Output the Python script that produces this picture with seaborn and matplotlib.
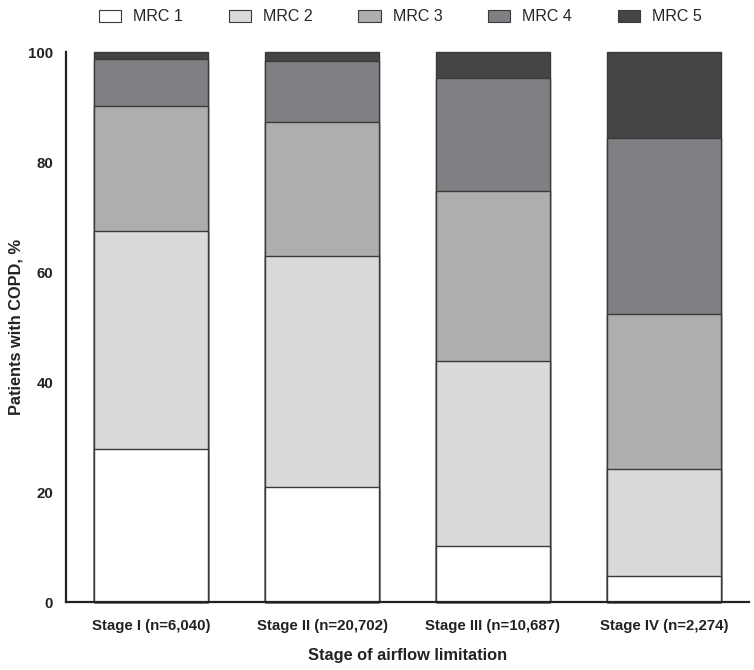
import numpy as np
import pandas as pd
import matplotlib

matplotlib.use("Agg")
import matplotlib.pyplot as plt
from matplotlib.patches import Patch
import seaborn as sns

sns.set_style("white")
plt.rcParams["font.family"] = ["Liberation Sans", "DejaVu Sans"]

# stages of airflow limitation
stages = ["Stage I (n=6,040)", "Stage II (n=20,702)", "Stage III (n=10,687)", "Stage IV (n=2,274)"]

# share of patients (%) in each MRC grade, per stage
mrc1 = [27.8, 20.9, 10.2, 4.8]
mrc2 = [39.7, 42.1, 33.6, 19.5]
mrc3 = [22.8, 24.4, 31.0, 28.2]
mrc4 = [8.4, 11.0, 20.5, 32.0]
mrc5 = [1.3, 1.6, 4.7, 15.5]

grades = ["MRC 1", "MRC 2", "MRC 3", "MRC 4", "MRC 5"]
colors = ["#ffffff", "#d9dadc", "#adaeb0", "#7f8083", "#454545"]

df = pd.DataFrame({"stage": stages, "MRC 1": mrc1, "MRC 2": mrc2,
                   "MRC 3": mrc3, "MRC 4": mrc4, "MRC 5": mrc5})
cum = df[grades].cumsum(axis=1)

fig = plt.figure(figsize=(7.54, 6.70), dpi=100)
ax = fig.add_axes([0.0871, 0.101, 0.9067, 0.821])

# stacked bars: draw cumulative totals from the top grade down
for g, c in reversed(list(zip(grades, colors))):
    sns.barplot(x=df["stage"], y=cum[g], color=c, edgecolor="#3a3a3a",
                linewidth=1.0, width=0.667, saturation=1, ax=ax)

ax.set_xlim(-0.5, 3.5)
ax.set_ylim(0, 100)
ax.set_yticks([0, 20, 40, 60, 80, 100])

for p in ax.patches:
    p.set_clip_on(False)

sns.despine(ax=ax)
for s in ["left", "bottom"]:
    ax.spines[s].set_linewidth(1.6)
    ax.spines[s].set_color("#222222")

ax.tick_params(axis="both", direction="out", length=6, width=1.5,
               color="#222222", labelsize=10.8, pad=3)
ax.tick_params(axis="x", length=7, pad=5)
for lab in ax.get_xticklabels() + ax.get_yticklabels():
    lab.set_fontweight("bold")
    lab.set_color("#222222")

ax.set_xlabel("Stage of airflow limitation", fontsize=11.8, fontweight="bold",
              color="#222222", labelpad=11)
ax.set_ylabel("Patients with COPD, %", fontsize=11.8, fontweight="bold",
              color="#222222", labelpad=3)

handles = [Patch(facecolor=c, edgecolor="#3a3a3a", linewidth=0.8, label=g)
           for g, c in zip(grades, colors)]
fig.legend(handles=handles, loc="center", bbox_to_anchor=(0.531, 0.975),
           ncol=5, frameon=False, fontsize=11.5, handlelength=1.4,
           handleheight=0.8, handletextpad=0.75, columnspacing=2.85)

fig.savefig("out.png", dpi=100)
